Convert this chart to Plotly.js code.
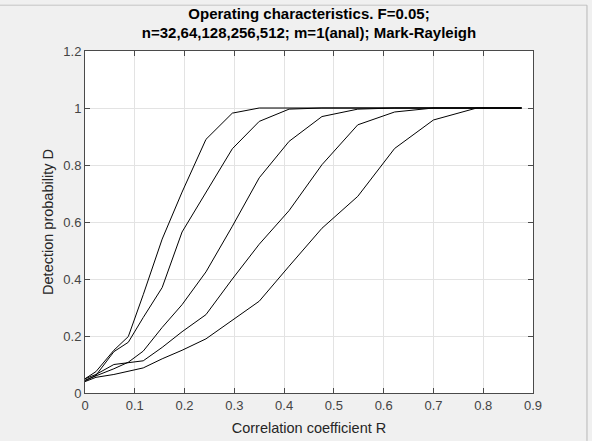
<!DOCTYPE html>
<html>
<head>
<meta charset="utf-8">
<script src="https://cdn.plot.ly/plotly-3.0.1.min.js"></script>
<style>html,body{margin:0;padding:0;background:#f0f0f0;}#chart{width:592px;height:441px;}</style>
</head>
<body>
<div id="chart"></div>
<script>
// Correlation coefficient R (common grid)
const R = [0, 0.022, 0.058, 0.087, 0.117, 0.155, 0.195, 0.243, 0.296, 0.350, 0.410, 0.476, 0.548, 0.622, 0.700, 0.787, 0.877];
// Detection probability D for each n
const D_n512 = [0.050, 0.075, 0.150, 0.198, 0.345, 0.540, 0.705, 0.890, 0.982, 1.000, 1.000, 1.000, 1.000, 1.000, 1.000, 1.000, 1.000];
const D_n256 = [0.042, 0.062, 0.145, 0.178, 0.265, 0.370, 0.565, 0.705, 0.857, 0.953, 0.996, 1.000, 1.000, 1.000, 1.000, 1.000, 1.000];
const D_n128 = [0.045, 0.060, 0.085, 0.108, 0.147, 0.230, 0.310, 0.425, 0.585, 0.755, 0.883, 0.970, 0.996, 1.000, 1.000, 1.000, 1.000];
const D_n64  = [0.050, 0.065, 0.100, 0.107, 0.113, 0.160, 0.215, 0.275, 0.400, 0.522, 0.640, 0.801, 0.941, 0.986, 1.000, 1.000, 1.000];
const D_n32  = [0.040, 0.055, 0.065, 0.075, 0.088, 0.120, 0.150, 0.190, 0.255, 0.322, 0.445, 0.578, 0.690, 0.858, 0.958, 1.000, 1.000];
const seriesNames = ['n=512', 'n=256', 'n=128', 'n=64', 'n=32'];
const seriesData = [D_n512, D_n256, D_n128, D_n64, D_n32];

const traces = seriesData.map((d, i) => ({
  x: R, y: d, type: 'scatter', mode: 'lines', name: seriesNames[i],
  line: {color: '#000000', width: 1}, showlegend: false
}));

const FONT = 'Liberation Sans, Arial, sans-serif';
const axisCommon = {
  showgrid: true, gridcolor: '#e3e3e3', gridwidth: 1,
  showline: true, linecolor: '#4a4a4a', linewidth: 1, mirror: 'allticks',
  ticks: 'inside', ticklen: 5, tickcolor: '#4a4a4a',
  zeroline: false,
  tickfont: {family: FONT, size: 13, color: '#444444'}
};

const layout = {
  width: 592, height: 441,
  paper_bgcolor: '#f0f0f0', plot_bgcolor: '#ffffff',
  margin: {l: 85, r: 59, t: 51, b: 48},
  title: {
    text: '<b>Operating characteristics. F=0.05;<br>n=32,64,128,256,512; m=1(anal); Mark-Rayleigh</b>',
    font: {family: FONT, size: 15, color: '#000000'},
    x: 0.5, xref: 'paper', xanchor: 'center',
    y: 0.957, yref: 'container', yanchor: 'top'
  },
  xaxis: Object.assign({}, axisCommon, {
    range: [0, 0.9], dtick: 0.1, tick0: 0,
    title: {text: 'Correlation coefficient R', standoff: 11,
      font: {family: FONT, size: 14.5, color: '#262626'}}
  }),
  yaxis: Object.assign({}, axisCommon, {
    range: [0, 1.2], dtick: 0.2, tick0: 0,
    title: {text: 'Detection probability D', standoff: 6,
      font: {family: FONT, size: 14.5, color: '#262626'}}
  }),
  shapes: [
    {type: 'line', xref: 'paper', yref: 'paper', x0: -0.19, x1: 1.1205, y0: 1.134, y1: 1.134,
     line: {color: '#c4c4c4', width: 1}},
    {type: 'line', xref: 'paper', yref: 'paper', x0: 1.1205, x1: 1.1205, y0: 1.134, y1: -0.14,
     line: {color: '#b8b8b8', width: 1}}
  ]
};

Plotly.newPlot('chart', traces, layout, {displayModeBar: false, staticPlot: true});
</script>
</body>
</html>
